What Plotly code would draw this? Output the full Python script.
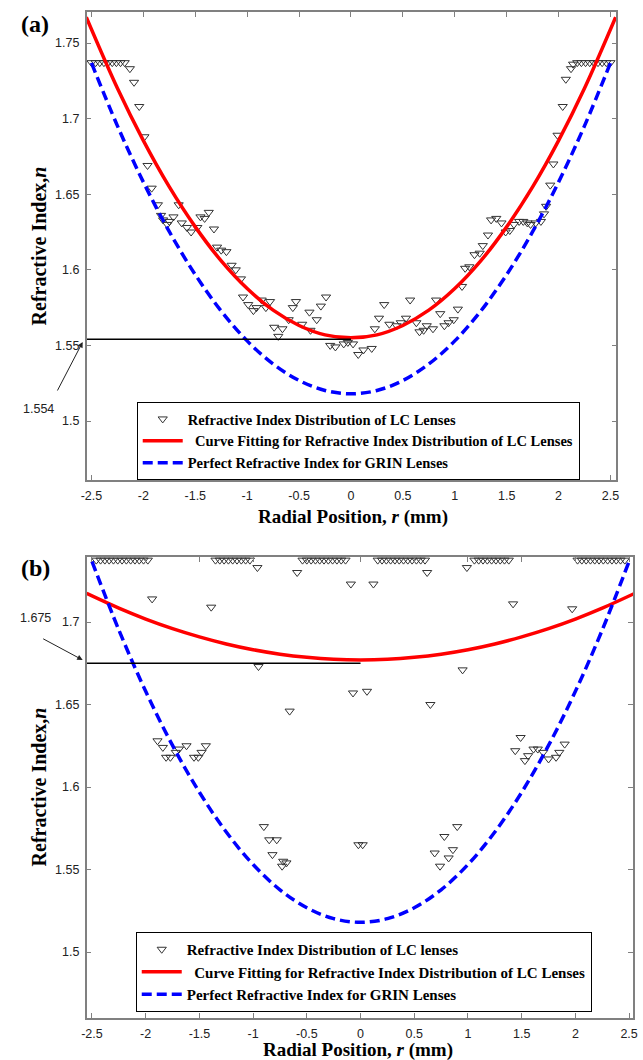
import plotly.graph_objects as go

# ---------------- data : panel (a) ----------------
r_lc_a = [-2.50, -2.46, -2.42, -2.38, -2.34, -2.30, -2.26, -2.22, -2.18,
          -2.13, -2.09, -2.04, -1.99, -1.96, -1.92, -1.86, -1.83, -1.81, -1.77,
          -1.75, -1.71, -1.66, -1.63, -1.58, -1.54, -1.48, -1.45, -1.41, -1.37,
          -1.32, -1.29, -1.25, -1.20, -1.15, -1.11, -1.06, -1.04, -0.99, -0.94,
          -0.91, -0.86, -0.82, -0.78, -0.74, -0.70, -0.66, -0.60, -0.56, -0.53,
          -0.47, -0.40, -0.39, -0.33, -0.29, -0.24, -0.20, -0.15, -0.07, -0.03,
          0.02, 0.07, 0.12, 0.20, 0.23, 0.27, 0.32, 0.37, 0.44, 0.48, 0.53,
          0.57, 0.63, 0.66, 0.70, 0.73, 0.79, 0.82, 0.86, 0.90, 0.94, 0.99,
          1.03, 1.07, 1.10, 1.14, 1.19, 1.24, 1.27, 1.32, 1.35, 1.40, 1.45,
          1.49, 1.53, 1.57, 1.62, 1.66, 1.70, 1.73, 1.78, 1.83, 1.86, 1.88,
          1.92, 1.95, 1.99, 2.04, 2.07, 2.12, 2.14,
          2.18, 2.22, 2.26, 2.30, 2.34, 2.38, 2.42, 2.46, 2.50]
n_lc_a = [1.737, 1.737, 1.737, 1.737, 1.737, 1.737, 1.737, 1.737, 1.737,
          1.733, 1.724, 1.708, 1.688, 1.669, 1.654, 1.643, 1.636, 1.633, 1.630,
          1.632, 1.635, 1.643, 1.631, 1.628, 1.625, 1.628, 1.635, 1.634, 1.638,
          1.627, 1.615, 1.613, 1.612, 1.603, 1.600, 1.594, 1.582, 1.577, 1.573,
          1.575, 1.580, 1.575, 1.579, 1.562, 1.556, 1.561, 1.567, 1.575, 1.579,
          1.564, 1.572, 1.560, 1.567, 1.576, 1.582, 1.550, 1.549, 1.551, 1.552,
          1.551, 1.544, 1.547, 1.548, 1.561, 1.568, 1.577, 1.564, 1.563, 1.565, 1.568,
          1.580, 1.565, 1.559, 1.560, 1.563, 1.561, 1.580, 1.571, 1.563, 1.565, 1.567,
          1.574, 1.589, 1.601, 1.602, 1.610, 1.611, 1.616, 1.623, 1.633, 1.634, 1.631,
          1.625, 1.626, 1.630, 1.632, 1.632, 1.631, 1.630, 1.631, 1.632, 1.637, 1.642,
          1.656, 1.670, 1.689, 1.708, 1.726, 1.733, 1.736,
          1.737, 1.737, 1.737, 1.737, 1.737, 1.737, 1.737, 1.737, 1.737]

r_fit_a = [-2.55, -2.25, -2.0, -1.75, -1.5, -1.25, -1.0, -0.75, -0.5, -0.25, 0.0,
           0.25, 0.5, 0.75, 1.0, 1.25, 1.5, 1.75, 2.0, 2.25, 2.55]
n_fit_a = [1.7670, 1.7200, 1.6854, 1.6548, 1.6284, 1.6059, 1.5876, 1.5733, 1.5632,
           1.5570, 1.5550, 1.5570, 1.5632, 1.5733, 1.5876, 1.6059, 1.6284, 1.6548,
           1.6854, 1.7200, 1.7670]

r_grin = [-2.5, -2.25, -2.0, -1.75, -1.5, -1.25, -1.0, -0.75, -0.5, -0.25, 0.0,
          0.25, 0.5, 0.75, 1.0, 1.25, 1.5, 1.75, 2.0, 2.25, 2.5]
n_grin = [1.7368, 1.6952, 1.6580, 1.6252, 1.5968, 1.5727, 1.5530, 1.5377, 1.5268,
          1.5202, 1.5180, 1.5202, 1.5268, 1.5377, 1.5530, 1.5727, 1.5968, 1.6252,
          1.6580, 1.6952, 1.7368]

r_center_line_a = [-2.547, 0.0]
n_center_a = 1.554

# ---------------- data : panel (b) ----------------
r_lc_b = [-2.46, -2.42, -2.38, -2.34, -2.30, -2.26, -2.22, -2.18, -2.14, -2.10, -2.06, -2.02, -1.98,
          -1.35, -1.31, -1.27, -1.23, -1.19, -1.15, -1.11, -1.07, -1.03,
          -0.54, -0.50, -0.46, -0.42, -0.38, -0.34, -0.30, -0.26, -0.22, -0.18, -0.14,
          0.16, 0.20, 0.24, 0.28, 0.32, 0.36, 0.40, 0.44, 0.48, 0.52, 0.56, 0.60,
          1.06, 1.10, 1.14, 1.18, 1.22, 1.26, 1.30, 1.34, 1.38,
          2.02, 2.06, 2.10, 2.14, 2.18, 2.22, 2.26, 2.30, 2.34, 2.38, 2.42, 2.46,
          -1.94, -1.39, -0.96, -0.59, -0.09, 0.12, 0.62, 0.99, 1.42, 1.97,
          -0.95, -0.66, -0.07, 0.06, 0.65, 0.95,
          -1.89, -1.84, -1.81, -1.77, -1.72, -1.69, -1.62, -1.55, -1.51, -1.48, -1.44,
          1.44, 1.49, 1.53, 1.56, 1.61, 1.65, 1.70, 1.75, 1.82, 1.85, 1.90,
          -0.90, -0.85, -0.78, -0.82, -0.72, -0.69, -0.73, -0.02, 0.02,
          0.69, 0.74, 0.78, 0.82, 0.86, 0.90]
n_lc_b = [1.7375] * 13 + [1.7375] * 9 + [1.7375] * 11 + [1.7375] * 12 + [1.7375] * 9 + [1.7375] * 12 + \
         [1.714, 1.709, 1.733, 1.730, 1.723, 1.723, 1.730, 1.733, 1.711, 1.708,
          1.673, 1.646, 1.657, 1.658, 1.650, 1.671,
          1.628, 1.624, 1.618, 1.618, 1.621, 1.623, 1.625, 1.618, 1.618, 1.621, 1.625,
          1.622, 1.630, 1.616, 1.619, 1.623, 1.623, 1.621, 1.617, 1.618, 1.621, 1.626,
          1.576, 1.568, 1.568, 1.559, 1.555, 1.554, 1.552, 1.565, 1.565,
          1.560, 1.552, 1.570, 1.557, 1.562, 1.576]

r_fit_b = [-2.55, -2.25, -2.0, -1.75, -1.5, -1.25, -1.0, -0.75, -0.5, -0.25, 0.0,
           0.25, 0.5, 0.75, 1.0, 1.25, 1.5, 1.75, 2.0, 2.25, 2.55]
n_fit_b = [1.7173, 1.7084, 1.7018, 1.6960, 1.6910, 1.6867, 1.6832, 1.6805, 1.6786,
           1.6774, 1.6770, 1.6774, 1.6786, 1.6805, 1.6832, 1.6867, 1.6910, 1.6960,
           1.7018, 1.7084, 1.7173]

r_center_line_b = [-2.55, 0.0]
n_center_b = 1.675

x_ticks = [-2.5, -2, -1.5, -1, -0.5, 0, 0.5, 1, 1.5, 2, 2.5]
x_tick_text = ["-2.5", "-2", "-1.5", "-1", "-0.5", "0", "0.5", "1", "1.5", "2", "2.5"]
y_ticks_a = [1.5, 1.55, 1.6, 1.65, 1.7, 1.75]
y_tick_text_a = ["1.5", "1.55", "1.6", "1.65", "1.7", "1.75"]
y_ticks_b = [1.5, 1.55, 1.6, 1.65, 1.7]
y_tick_text_b = ["1.5", "1.55", "1.6", "1.65", "1.7"]

# ---------------- figure ----------------
W, H = 643, 1060
def px(x):
    return x / W
def py(y):
    return 1 - y / H

SERIF = "Liberation Serif"
SANS = "Liberation Sans"
mk = dict(symbol="triangle-down-open", size=8, color="#333333", line=dict(width=1, color="#333333"))
red = dict(color="#ff0000", width=3.5)
blue = dict(color="#0000ff", width=3.5, dash="10px,5px")

fig = go.Figure()
# panel a
fig.add_trace(go.Scatter(x=r_lc_a, y=n_lc_a, mode="markers", marker=mk,
                         name="Refractive Index Distribution of LC Lenses",
                         xaxis="x", yaxis="y", legend="legend"))
fig.add_trace(go.Scatter(x=r_fit_a, y=n_fit_a, mode="lines", line=dict(shape="spline", **red),
                         name="\u00a0\u00a0Curve Fitting for Refractive Index Distribution of LC Lenses",
                         xaxis="x", yaxis="y", legend="legend"))
fig.add_trace(go.Scatter(x=r_grin, y=n_grin, mode="lines", line=dict(shape="spline", **blue),
                         name="Perfect Refractive Index for GRIN Lenses",
                         xaxis="x", yaxis="y", legend="legend"))
fig.add_trace(go.Scatter(x=r_center_line_a, y=[n_center_a] * len(r_center_line_a), mode="lines",
                         line=dict(color="black", width=1.5), showlegend=False,
                         xaxis="x", yaxis="y"))
# panel b
fig.add_trace(go.Scatter(x=r_lc_b, y=n_lc_b, mode="markers", marker=mk,
                         name="Refractive Index Distribution of LC lenses",
                         xaxis="x2", yaxis="y2", legend="legend2"))
fig.add_trace(go.Scatter(x=r_fit_b, y=n_fit_b, mode="lines", line=dict(shape="spline", **red),
                         name="\u00a0\u00a0Curve Fitting for Refractive Index Distribution of LC Lenses",
                         xaxis="x2", yaxis="y2", legend="legend2"))
fig.add_trace(go.Scatter(x=r_grin, y=n_grin, mode="lines", line=dict(shape="spline", **blue),
                         name="Perfect Refractive Index for GRIN Lenses",
                         xaxis="x2", yaxis="y2", legend="legend2"))
fig.add_trace(go.Scatter(x=r_center_line_b, y=[n_center_b] * len(r_center_line_b), mode="lines",
                         line=dict(color="black", width=1.5), showlegend=False,
                         xaxis="x2", yaxis="y2"))

axis_common = dict(showline=True, linecolor="#808080", linewidth=1.5, mirror="ticks",
                   ticks="inside", ticklen=5, tickcolor="#808080", tickwidth=1.2,
                   showgrid=False, zeroline=False, ticklabelstandoff=3,
                   tickfont=dict(family=SANS, size=12.5, color="#222222"))

fig.update_layout(
    width=W, height=H, margin=dict(l=0, r=0, t=0, b=0),
    paper_bgcolor="white", plot_bgcolor="white",
    xaxis=dict(domain=[px(82), px(621)], range=[-2.547, 2.557], anchor="y",
               tickvals=x_ticks, ticktext=x_tick_text, **axis_common),
    yaxis=dict(domain=[py(480), py(12)], range=[1.461, 1.7705], anchor="x",
               tickvals=y_ticks_a, ticktext=y_tick_text_a, **axis_common),
    xaxis2=dict(domain=[px(82), px(638)], range=[-2.55, 2.537], anchor="y2",
                tickvals=x_ticks, ticktext=x_tick_text, **axis_common),
    yaxis2=dict(domain=[py(1018), py(557)], range=[1.46, 1.7394], anchor="x2",
                tickvals=y_ticks_b, ticktext=y_tick_text_b, **axis_common),
    legend=dict(x=px(133), y=py(402), xanchor="left", yanchor="top",
                bordercolor="black", borderwidth=1, bgcolor="white",
                font=dict(family=SERIF, size=14.5, color="black", weight="bold"),
                itemwidth=40, tracegroupgap=0),
    legend2=dict(x=px(132), y=py(932), xanchor="left", yanchor="top",
                 bordercolor="black", borderwidth=1, bgcolor="white",
                 font=dict(family=SERIF, size=15, color="black", weight="bold"),
                 itemwidth=40, tracegroupgap=0),
    showlegend=True,
)

ann = []
title_font = dict(family=SERIF, size=19, color="black", weight="bold")
ytitle_font = dict(family=SERIF, size=20, color="black", weight="bold")
C = dict(xref="paper", yref="paper", showarrow=False, xanchor="center", yanchor="middle")
for xc, yc in [(353, 517), (358, 1050)]:
    ann.append(dict(x=px(xc), y=py(yc), text="Radial Position, <i>r</i> (mm)", font=title_font, **C))
for yc in [246, 787]:
    ann.append(dict(x=px(34), y=py(yc), text="Refractive Index,<i>n</i>", textangle=-90,
                    font=ytitle_font, **C))
for lab, yc in [("(a)", 24), ("(b)", 568)]:
    ann.append(dict(x=px(30), y=py(yc), text=lab,
                    font=dict(family=SERIF, size=24, color="black", weight="bold"), **C))
for lab, xc, yc in [("1.554", 33, 409), ("1.675", 30, 618)]:
    ann.append(dict(x=px(xc), y=py(yc), text=lab,
                    font=dict(family=SANS, size=12.5, color="#222222"), **C))
for tx, ty, ax, ay in [(78, 342, -26, 50), (78, 660, -41, -22)]:
    ann.append(dict(x=px(tx), y=py(ty), xref="paper", yref="paper", showarrow=True,
                    text="", ax=ax, ay=ay, arrowhead=2, arrowsize=1.1, arrowwidth=1,
                    arrowcolor="#222222"))
fig.update_layout(annotations=ann)

fig.write_html("out.html")
